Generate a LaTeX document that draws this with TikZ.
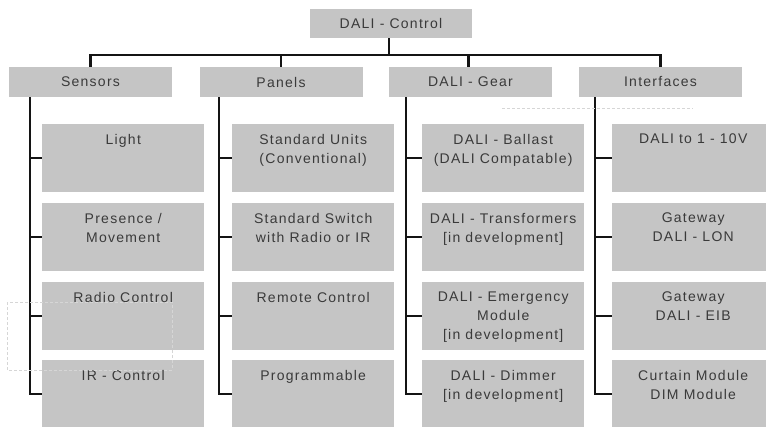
\documentclass[tikz,border=0pt]{standalone}
\usepackage{fontspec}
\setmainfont[LetterSpace=9]{Liberation Sans}
\definecolor{boxgray}{HTML}{C5C5C5}
\definecolor{txtgray}{HTML}{3A3A3A}
\definecolor{artgray}{HTML}{D6D6D6}
\tikzset{
  catbox/.style={fill=boxgray, draw=none, minimum width=163pt, minimum height=30pt, inner sep=0pt,
    text=txtgray, font=\fontsize{14}{19}\selectfont},
  childbox/.style={fill=boxgray, draw=none, minimum width=162pt, minimum height=68pt, inner sep=0pt, anchor=north west},
  childtxt/.style={anchor=north, align=center, inner xsep=0pt, inner ysep=10pt, text=txtgray,
    font=\fontsize{14}{19}\selectfont},
  conn/.style={line width=2.4pt, black!92, line cap=butt, line join=miter},
  artifact/.style={draw=artgray, line width=0.6pt, dash pattern=on 3pt off 2pt}
}
\begin{document}
\begin{tikzpicture}[x=1pt,y=-1pt]
\useasboundingbox (0,0) rectangle (766,426);
\clip (0,0) rectangle (766,426);

% top node
\node[catbox, minimum width=162pt, minimum height=29pt] (top) at (391,23.5) {DALI - Control};

% categories
\node[catbox] (sens) at (90.5,82) {Sensors};
\node[catbox] (pan)  at (281,82) {Panels};
\node[catbox] (gear) at (470.5,82) {DALI - Gear};
\node[catbox] (intf) at (660.5,82) {Interfaces};

% child boxes
\foreach \col/\x in {s/42, p/232, g/422, i/612}{
  \foreach \row/\y in {1/124, 2/203, 3/282, 4/360}{
    \node[childbox] (\col\row) at (\x,\y) {};
  }
}

% texts
\node[childtxt] at (s1.north) {Light};
\node[childtxt] at (s2.north) {Presence /\\Movement};
\node[childtxt] at (s3.north) {Radio Control};
\node[childtxt] at (s4.north) {IR - Control};

\node[childtxt] at (p1.north) {Standard Units\\(Conventional)};
\node[childtxt] at (p2.north) {Standard Switch\\with Radio or IR};
\node[childtxt] at (p3.north) {Remote Control};
\node[childtxt] at (p4.north) {Programmable};

\node[childtxt] at (g1.north) {DALI - Ballast\\(DALI Compatable)};
\node[childtxt] at (g2.north) {DALI - Transformers\\{[in development]}};
\node[childtxt] at (g3.north) {DALI - Emergency\\Module\\{[in development]}};
\node[childtxt] at (g4.north) {DALI - Dimmer\\{[in development]}};

\node[childtxt] at (i1.north) {DALI to 1 - 10V};
\node[childtxt] at (i2.north) {Gateway\\DALI - LON};
\node[childtxt] at (i3.north) {Gateway\\DALI - EIB};
\node[childtxt] at (i4.north) {Curtain Module\\DIM Module};

% top connectors
\coordinate (bus) at (389,55);
\draw[conn] ([xshift=-2pt]top.south) -- (bus);
\draw[conn] (sens.north) |- (bus) -| (intf.north);
\draw[conn] (pan.north) -- (pan.north |- bus);
\draw[conn] ([xshift=-2pt]gear.north) -- ([xshift=-2pt]gear.north |- bus);

% trunks
\coordinate (ts) at (30,97);
\coordinate (tp) at (219,97);
\coordinate (tg) at (406,97);
\coordinate (ti) at (595,97);
\foreach \t/\c in {ts/s, tp/p, tg/g, ti/i}{
  \draw[conn] (\t) |- (\c4.west);
  \foreach \r in {1,2,3}{
    \draw[conn] (\t |- \c\r.west) -- (\c\r.west);
  }
}

% faint artifacts
\draw[artifact] (7,302) rectangle (172,370);
\draw[artifact] (502,108) -- (693,108);
\end{tikzpicture}
\end{document}
